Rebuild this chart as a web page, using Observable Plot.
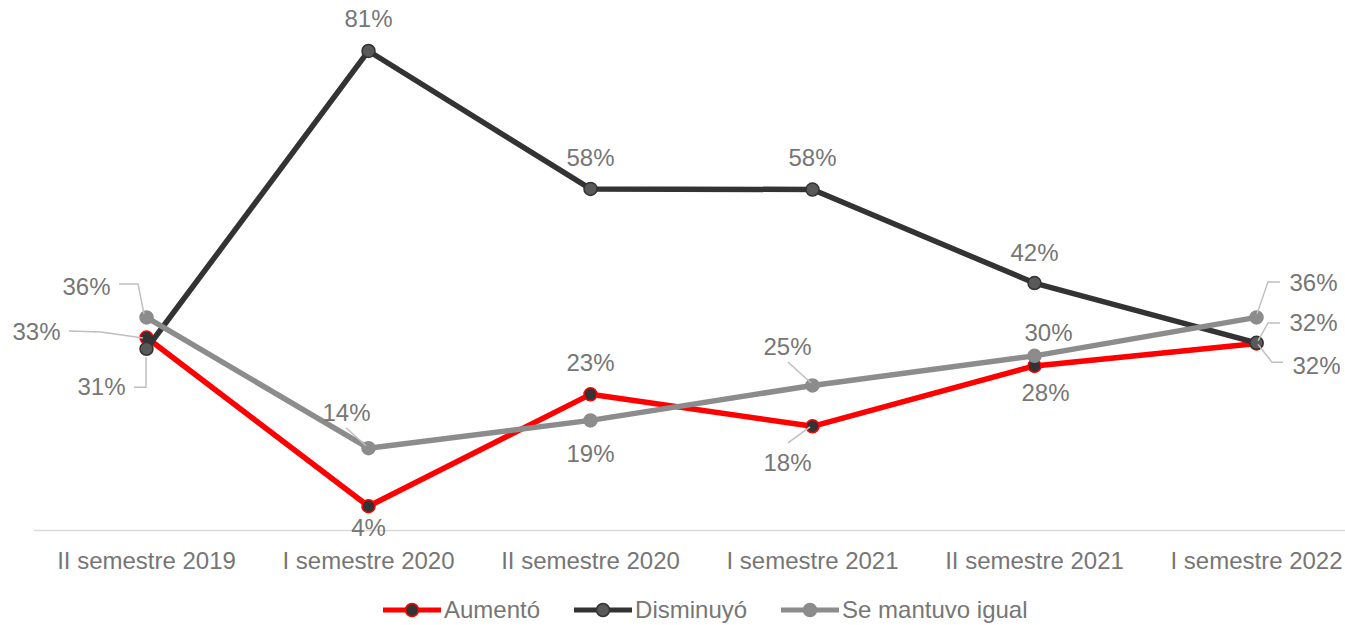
<!DOCTYPE html>
<html><head><meta charset="utf-8">
<script src="https://cdn.jsdelivr.net/npm/d3@7"></script>
<script src="https://cdn.jsdelivr.net/npm/@observablehq/plot@0.6"></script>
<style>
body{margin:0;background:#fff;font-family:"Liberation Sans",Arial,sans-serif;}
#chart svg{overflow:visible;display:block}
#legend{display:flex;align-items:center;height:36px;padding-left:383px;font-size:24px;color:#767676;font-family:"Liberation Sans",Arial,sans-serif}
.item{display:flex;align-items:center;margin-right:34px}
.item svg{margin-right:3px}
</style></head><body>
<div id="chart"></div>
<div id="legend"></div>
<script>
// ---- data ----
const categories = ["II semestre 2019","I semestre 2020","II semestre 2020","I semestre 2021","II semestre 2021","I semestre 2022"];
const aumento   = [32.6, 4.1, 23.0, 17.6, 27.8, 31.6];
const disminuyo = [30.7, 81.0, 57.7, 57.6, 41.8, 31.7];
const mantuvo   = [36.0, 13.9, 18.6, 24.5, 29.5, 36.0];
const seriesNames = ["Aumentó","Disminuyó","Se mantuvo igual"];

// ---- styles / layout (not data) ----
const styles = {
  "Aumentó":          {line:"#ff0000", fill:"#333333", stroke:"#ff0000"},
  "Disminuyó":        {line:"#333333", fill:"#595959", stroke:"#333333"},
  "Se mantuvo igual": {line:"#8c8c8c", fill:"#8c8c8c", stroke:"#8c8c8c"}
};
// label offsets [dx, dy] in px and optional leader polylines (px offsets from the point)
const labelLayout = {
  "Aumentó": [
    {d:[-110,-5], leader:[[-77,-6],[-45,-5],[-3,1]]},
    {d:[0,22]}, {d:[0,-31]},
    {d:[-25,37], leader:[[-24,17],[-2,1]]},
    {d:[11,27]},
    {d:[57,-20], leader:[[24,-20],[12,-20],[2,-2]]}
  ],
  "Disminuyó": [
    {d:[-45,39], leader:[[0,9],[0,39],[-12,39]]},
    {d:[0,-32]}, {d:[0,-31]}, {d:[0,-31]}, {d:[0,-30]},
    {d:[60,23], leader:[[2,2],[16,20],[27,20]]}
  ],
  "Se mantuvo igual": [
    {d:[-60,-30], leader:[[-2,-3],[-8,-33],[-27,-33]]},
    {d:[-22,-35], leader:[[-22,-20],[-2,-2]]},
    {d:[0,34]},
    {d:[-25,-38], leader:[[-24,-23],[-1,-2]]},
    {d:[14,-23]},
    {d:[57,-34], leader:[[1,-3],[12,-35],[24,-35]]}
  ]
};

const seriesValues = [aumento, disminuyo, mantuvo];
const rows = seriesNames.flatMap((s, i) => categories.map((c, j) => ({series:s, cat:c, value:seriesValues[i][j], idx:j})));

const textColor = "#767676";
const fontSize = 24;
const fontFamily = '"Liberation Sans", Arial, sans-serif';

const marks = [
  Plot.ruleY([0], {stroke:"#d9d9d9", strokeWidth:1.5}),
  Plot.text(categories, {x:d=>d, y:d=>0, dy:31, fill:textColor, fontSize, fontFamily, text:d=>d})
];
for (const s of seriesNames) {
  const data = rows.filter(r => r.series === s);
  const st = styles[s];
  marks.push(Plot.line(data, {x:"cat", y:"value", stroke:st.line, strokeWidth:5.5, strokeLinejoin:"round", strokeLinecap:"round"}));
  marks.push(Plot.dot(data, {x:"cat", y:"value", r:6.5, fill:st.fill, stroke:st.stroke, strokeWidth:1.5}));
}
for (const s of seriesNames) {
  rows.filter(r => r.series === s).forEach(r => {
    const L = labelLayout[s][r.idx];
    marks.push(Plot.text([r], {x:"cat", y:"value", text:d=>Math.round(d.value)+"%", dx:L.d[0], dy:L.d[1], fill:textColor, fontSize, fontFamily}));
  });
}

const chart = Plot.plot({
  width:1345, height:592,
  marginLeft:34, marginRight:0, marginTop:0, marginBottom:62,
  x:{type:"point", domain:categories, range:[145,1256], padding:0, axis:null},
  y:{domain:[0,85], range:[530, 530-85*5.92], axis:null},
  style:{background:"#fff", fontFamily},
  marks
});
document.getElementById("chart").appendChild(chart);

// leader lines via the plot's own scales
const sx = chart.scale("x"), sy = chart.scale("y");
const fx = sx.apply ? v => sx.apply(v) : d3.scalePoint(sx.domain, sx.range).padding(0);
const fy = sy.apply ? v => sy.apply(v) : d3.scaleLinear(sy.domain, sy.range);
const g = d3.select(chart).append("g").attr("fill","none").attr("stroke","#bfbfbf").attr("stroke-width",1.5);
for (const r of rows) {
  const L = labelLayout[r.series][r.idx];
  if (!L.leader) continue;
  const px = fx(r.cat), py = fy(r.value);
  g.append("path").attr("d", d3.line()(L.leader.map(([a,b]) => [px+a, py+b])));
}

// legend
const legend = d3.select("#legend");
for (const s of seriesNames) {
  const st = styles[s];
  const it = legend.append("div").attr("class","item");
  const sv = it.append("svg").attr("width",58).attr("height",20);
  sv.append("line").attr("x1",0).attr("x2",58).attr("y1",10).attr("y2",10).attr("stroke",st.line).attr("stroke-width",5).attr("stroke-linecap","round");
  sv.append("circle").attr("cx",29).attr("cy",10).attr("r",6.5).attr("fill",st.fill).attr("stroke",st.stroke).attr("stroke-width",1.5);
  it.append("span").text(s);
}
</script>
</body></html>
